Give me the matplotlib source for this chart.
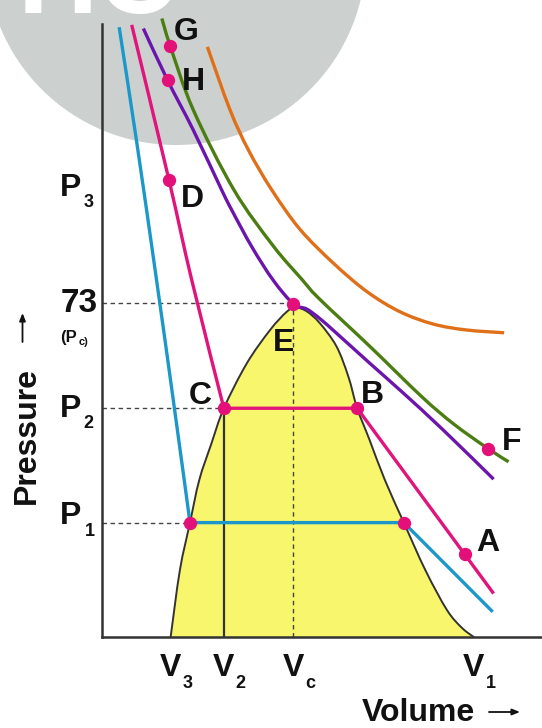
import matplotlib
matplotlib.use("Agg")
import matplotlib.pyplot as plt
from matplotlib.patches import Ellipse, PathPatch
from matplotlib.path import Path

# ---------------- data (volume in arbitrary units, pressure in atm) ----------------
dome_v = [15.6, 17.7, 20.0, 22.1, 24.8, 27.7, 32.9, 38.2, 42.0, 44.0, 46.5, 49.5,
          53.3, 56.0, 58.0, 60.8, 64.3, 68.6, 73.5, 78.4, 81.8, 84.5]
dome_p = [0.0, 14.6, 25.0, 34.3, 42.1, 50.0, 59.8, 67.1, 71.1, 72.0, 71.2, 68.6,
          63.5, 56.9, 50.0, 43.1, 34.3, 25.0, 14.6, 5.9, 2.0, 0.0]

blue_v = [3.9, 7.9, 12.4, 16.2, 20.0, 68.6, 88.8]
blue_p = [133.3, 108.1, 78.0, 51.8, 25.0, 25.0, 5.5]

mag_v = [6.75, 15.2, 20.4, 27.7, 58.0, 89.0]
mag_p = [133.8, 100.0, 78.0, 50.0, 50.0, 9.5]

pur_v = [9.4, 14.9, 20.75, 27.2, 29.5, 34.1, 38.9, 43.5, 46.5, 49.5, 53.3, 60.9, 68.5, 77.6, 89.0]
pur_p = [133.0, 121.7, 110.8, 97.7, 93.3, 85.2, 78.0, 72.8, 71.7, 69.6, 66.4, 59.8, 53.3, 45.2, 34.5]

grn_v = [13.6, 15.5, 20.75, 30.0, 38.9, 45.4, 49.3, 60.9, 72.7, 80.0, 87.7, 92.4]
grn_p = [135.2, 129.2, 115.2, 97.7, 85.5, 78.2, 74.0, 63.5, 52.5, 46.5, 41.2, 38.3]

org_v = [23.95, 29.1, 33.3, 38.6, 45.0, 52.6, 60.2, 67.7, 75.3, 82.9, 91.4]
org_p = [129.0, 115.2, 106.4, 97.7, 89.1, 81.7, 75.5, 71.1, 68.4, 67.1, 66.5]

dot_names = ["G", "H", "D", "E", "C", "B", "F", "A", "", ""]
dot_v = [15.5, 14.9, 15.2, 43.5, 27.7, 58.0, 87.7, 82.6, 20.0, 68.6]
dot_p = [129.2, 121.7, 100.0, 72.8, 50.0, 50.0, 41.2, 18.1, 25.0, 25.0]

V3, V2, Vc, V1 = 15.6, 27.7, 43.5, 84.5
P1, P2, Pc, P3 = 25.0, 50.0, 73.0, 100.0
v_ticks = [V3, V2, Vc, V1]
v_subs = ["3", "2", "c", "1"]

# ---------------- figure ----------------
W, H = 542, 728
fig = plt.figure(figsize=(W / 100, H / 100), dpi=100)
fig.patch.set_facecolor("white")
ax = fig.add_axes([102 / W, 1 - 637 / H, 440 / W, 637 / H])
ax.set_facecolor("none")
XPX, YPX = 4.4, 4.575          # pixels per data unit
ax.set_xlim(0, 440 / XPX)
ax.set_ylim(0, 637 / YPX)


def D(px, py):
    return ((px - 102) / XPX, (637 - py) / YPX)


def smooth_verts(xs, ys, corners=()):
    """Bezier path through the read points (Catmull-Rom), sharp at given corner indices."""
    pts = [(x * XPX, y * YPX) for x, y in zip(xs, ys)]
    n = len(pts)
    verts = [pts[0]]
    codes = [Path.MOVETO]
    for i in range(n - 1):
        p0 = pts[i - 1] if (i > 0 and i not in corners) else pts[i]
        p1, p2 = pts[i], pts[i + 1]
        p3 = pts[i + 2] if (i + 2 < n and (i + 1) not in corners) else pts[i + 1]
        c1 = (p1[0] + (p2[0] - p0[0]) / 6, p1[1] + (p2[1] - p0[1]) / 6)
        c2 = (p2[0] - (p3[0] - p1[0]) / 6, p2[1] - (p3[1] - p1[1]) / 6)
        verts += [c1, c2, p2]
        codes += [Path.CURVE4] * 3
    verts = [(x / XPX, y / YPX) for x, y in verts]
    return verts, codes


def curve(xs, ys, color, lw, corners=(), z=4, clip=True):
    v, c = smooth_verts(xs, ys, corners)
    ax.add_patch(PathPatch(Path(v, c), fill=False, edgecolor=color, lw=lw, zorder=z,
                           capstyle="butt", joinstyle="round", clip_on=clip))


for s in ["top", "right"]:
    ax.spines[s].set_visible(False)
for s in ["left", "bottom"]:
    ax.spines[s].set_color("#333333")
    ax.spines[s].set_linewidth(1.8)
ax.spines["left"].set_bounds(0, (637 - 24) / YPX)
ax.set_xticks([])
ax.set_yticks([])

# watermark
cx, cy = D(176, -45)
ax.add_patch(Ellipse((cx, cy), 2 * 190 / XPX, 2 * 190 / YPX, color="#ccd1d0",
                     zorder=0, clip_on=False, lw=0))
wx, wy = D(18, 13)
ax.text(wx, wy, "HC", fontsize=80, color="white", fontweight="bold",
        family="Liberation Sans", ha="left", va="baseline", zorder=0.5, clip_on=False)

# two-phase region
dv, dc = smooth_verts(dome_v, dome_p)
ax.add_patch(PathPatch(Path(dv, dc), facecolor="#f7f66c", edgecolor="none", zorder=1))
ax.add_patch(PathPatch(Path(dv, dc), fill=False, edgecolor="#333333", lw=1.4, zorder=3))

# guide lines
dash = dict(color="#444444", lw=1.0, dashes=(3.2, 2.6), zorder=2)
ax.plot([0, Vc], [Pc, Pc], **dash)
ax.plot([0, V2], [P2, P2], **dash)
ax.plot([0, dot_v[8]], [P1, P1], **dash)
ax.plot([Vc, Vc], [0, Pc], **dash)
ax.plot([V2, V2], [0, P2], color="#333333", lw=1.6, zorder=2)

# isotherms
lw = 2.4
curve(org_v, org_p, "#df7019", lw)
curve(grn_v, grn_p, "#4b7d12", lw, clip=False)
curve(pur_v, pur_p, "#6c15ad", lw)
curve(mag_v, mag_p, "#e0147a", lw, corners=(3, 4))
curve(blue_v, blue_p, "#1c97c9", lw, corners=(4, 5))

# points
ax.plot(dot_v, dot_p, "o", ms=9.6, color="#e3107a", mec="none", zorder=6)

bold = dict(family="Liberation Sans", fontweight="bold", color="#111111", clip_on=False)
letter_pos = {"G": (186, 40), "H": (193, 90), "D": (192, 207), "E": (284, 351),
              "C": (200.5, 404), "B": (372.5, 403), "F": (511.5, 450), "A": (487.5, 551)}
for name in dot_names:
    if name:
        x, y = D(*letter_pos[name])
        ax.text(x, y, name, fontsize=23, ha="center", va="baseline", zorder=7, **bold)

# pressure labels
for lab, sub, ppos, spos in [("P", "3", (70.8, 196), (83.5, 207)),
                             ("P", "2", (70.8, 417), (83.5, 428)),
                             ("P", "1", (70.8, 524), (84.5, 536))]:
    x, y = D(*ppos)
    ax.text(x, y, lab, fontsize=23, ha="center", va="baseline", **bold)
    x, y = D(*spos)
    ax.text(x, y, sub, fontsize=13, ha="left", va="baseline", **bold)
x, y = D(98, 312)
ax.text(x, y, "73", fontsize=24, ha="right", va="baseline", **bold)
x, y = D(60, 342)
ax.text(x, y, "(P", fontsize=12, ha="left", va="baseline", **bold)
x, y = D(78.5, 345)
ax.text(x, y, "c)", fontsize=8, ha="left", va="baseline", **bold)

# volume labels
for v, sub in zip(v_ticks, v_subs):
    _, y = D(0, 676)
    ax.text(v, y, "V", fontsize=23, ha="center", va="baseline", **bold)
    _, ys = D(0, 688)
    ax.annotate(sub, xy=(v, ys), xycoords="data", xytext=(8.5, 0),
                textcoords="offset points", fontsize=13, ha="left", va="baseline",
                annotation_clip=False, **{k: bold[k] for k in ("family", "fontweight", "color")})

# axis titles
x, y = D(418, 721)
ax.text(x, y, "Volume", fontsize=23, ha="center", va="baseline", **bold)
a0, a1 = D(489, 712), D(520, 712)
ax.annotate("", xy=a1, xytext=a0, xycoords="data", annotation_clip=False,
            arrowprops=dict(arrowstyle="-|>,head_length=0.45,head_width=0.18",
                            color="#111111", lw=1.3, shrinkA=0, shrinkB=0))

x, y = D(34.6, 435.5)
ax.text(x, y, "Pressure", fontsize=23, rotation=90, rotation_mode="anchor",
        ha="center", va="baseline", **bold)
a0, a1 = D(22.5, 342), D(22.5, 313)
ax.annotate("", xy=a1, xytext=a0, xycoords="data", annotation_clip=False,
            arrowprops=dict(arrowstyle="-|>,head_length=0.45,head_width=0.18",
                            color="#111111", lw=1.3, shrinkA=0, shrinkB=0))

fig.savefig("out.png", dpi=100)
